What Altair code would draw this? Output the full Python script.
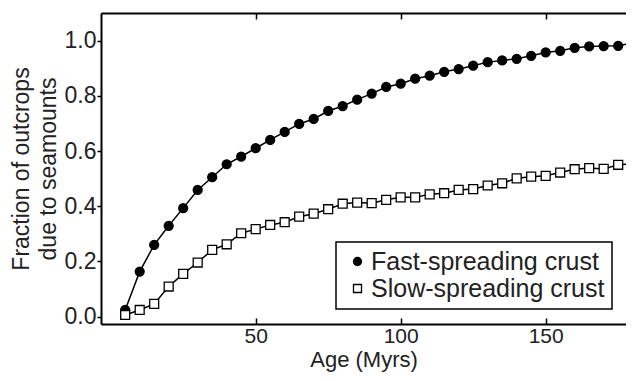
import altair as alt
import pandas as pd

# ---- data ----
ages = [5, 10, 15, 20, 25, 30, 35, 40, 45, 50, 55, 60, 65, 70, 75, 80, 85, 90,
        95, 100, 105, 110, 115, 120, 125, 130, 135, 140, 145, 150, 155, 160,
        165, 170, 175, 180]
fast = [0.024, 0.163, 0.260, 0.329, 0.393, 0.459, 0.505, 0.552, 0.580, 0.610,
        0.640, 0.669, 0.698, 0.716, 0.745, 0.763, 0.786, 0.808, 0.832, 0.844,
        0.862, 0.873, 0.887, 0.897, 0.909, 0.922, 0.928, 0.934, 0.945, 0.957,
        0.963, 0.974, 0.979, 0.980, 0.981, 0.992]
slow = [0.006, 0.024, 0.046, 0.109, 0.155, 0.196, 0.242, 0.262, 0.302, 0.317,
        0.332, 0.342, 0.362, 0.373, 0.389, 0.409, 0.413, 0.411, 0.423, 0.432,
        0.432, 0.443, 0.447, 0.459, 0.462, 0.475, 0.483, 0.501, 0.507, 0.510,
        0.522, 0.534, 0.538, 0.535, 0.550, 0.553]
series_names = ["Fast-spreading crust", "Slow-spreading crust"]
x_ticks = [50, 100, 150]
y_ticks = [0.0, 0.2, 0.4, 0.6, 0.8, 1.0]

df = pd.DataFrame({
    "age": ages + ages,
    "frac": fast + slow,
    "series": [series_names[0]] * len(ages) + [series_names[1]] * len(ages),
})

FONT = "Liberation Sans"
TXT = "#222222"
# plot area 525 x 311 px (2.9 px per Myr, 276 px per unit of fraction)
X_DOMAIN = [-3.34, 177.7]
Y_DOMAIN = [-0.0268, 1.1]

xscale = alt.Scale(domain=X_DOMAIN, nice=False, zero=False)
yscale = alt.Scale(domain=Y_DOMAIN, nice=False, zero=False)

y_axis = alt.Axis(
    orient="left", values=y_ticks, format=".1f", domain=True,
    domainColor="black", domainWidth=2, ticks=True, tickSize=4,
    tickWidth=1.5, tickColor="black", labelFontSize=23, labelFont=FONT,
    labelColor=TXT, labelPadding=1,
    title=["Fraction of outcrops", "due to seamounts"],
    titleFontSize=23, titleFont=FONT, titleFontWeight="normal",
    titleColor=TXT, titlePadding=4, titleLineHeight=27, grid=False)

base = alt.Chart(df)

lines = base.mark_line(color="black", strokeWidth=1.5).encode(
    x=alt.X("age:Q", scale=xscale, axis=alt.Axis(
        orient="bottom", values=x_ticks, domain=True, domainColor="black",
        domainWidth=2, ticks=True, tickSize={"expr": "-6"}, tickWidth=1.5,
        tickColor="black", labels=True, labelFontSize=21,
        labelFont=FONT, labelColor=TXT, labelPadding=7,
        title="Age (Myrs)", titleFontSize=22, titleFont=FONT,
        titleFontWeight="normal", titleColor=TXT,
        titlePadding=3, grid=False)),
    y=alt.Y("frac:Q", scale=yscale, axis=y_axis),
    detail="series:N",
)

legend = alt.Legend(
    title=None, orient="none", legendX=235, legendY=229,
    labelFontSize=25, labelFont=FONT, labelColor=TXT, labelLimit=0,
    symbolSize=64, symbolStrokeWidth=1.3,
    padding=7, rowPadding=1, labelOffset=1, symbolOffset=2,
    strokeColor="black", fillColor="white", cornerRadius=0,
)

points = base.mark_point(filled=False, size=80, stroke="black",
                         strokeWidth=1.3, opacity=1).encode(
    x=alt.X("age:Q", scale=xscale, axis=alt.Axis(
        orient="top", values=x_ticks, domain=True, domainColor="black",
        domainWidth=2, ticks=True, tickSize={"expr": "-6"}, tickWidth=1.5,
        tickColor="black", labels=False, title=None, grid=False)),
    y=alt.Y("frac:Q", scale=yscale, axis=y_axis),
    shape=alt.Shape("series:N", scale=alt.Scale(domain=series_names,
                    range=["circle", "square"]), legend=legend),
    fill=alt.Fill("series:N", scale=alt.Scale(domain=series_names,
                  range=["black", "white"]), legend=legend),
)

chart = alt.layer(lines, points).resolve_axis(
    x="independent"
).properties(
    width=525, height=311, autosize="none",
    padding={"left": 93, "top": 5, "right": 0, "bottom": 49},
).configure_view(stroke=None).configure_legend(strokeWidth=1.5)

chart.save("out.html", embed_options={"renderer": "svg", "actions": False})
